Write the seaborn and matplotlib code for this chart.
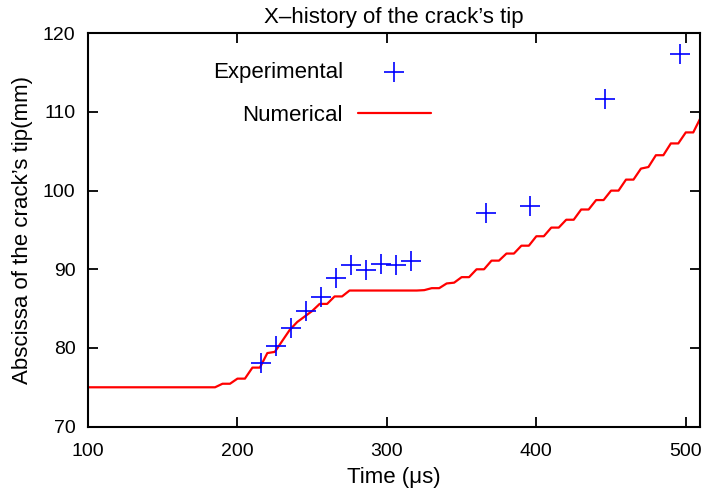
import matplotlib
matplotlib.use("Agg")
import matplotlib.pyplot as plt
import seaborn as sns
import pandas as pd

# Experimental crack-tip positions
exp_time = [216, 226, 236, 246, 256, 266, 276, 286, 296, 306, 316, 366, 396, 446, 496]
exp_pos = [78.1, 80.3, 82.5, 84.7, 86.5, 88.9, 90.6, 89.9, 90.7, 90.6, 91.0, 97.1, 98.0, 111.7, 117.4]

# Numerical crack-tip positions (staircase)
num_time = [100, 185, 190, 195, 200, 205, 210, 215, 220, 225, 230, 235, 240, 245, 250,
            255, 260, 265, 270, 275, 280, 290, 300, 310, 320, 325, 330, 335, 340, 345,
            350, 355, 360, 365, 370, 375, 380, 385, 390, 395, 400, 405, 410, 415, 420,
            425, 430, 435, 440, 445, 450, 455, 460, 465, 470, 475, 480, 485, 490, 495,
            500, 505, 510]
num_pos = [75.0, 75.0, 75.45, 75.45, 76.1, 76.1, 77.5, 77.5, 79.35, 79.5, 80.9, 82.3, 83.3, 84.0, 84.7,
           85.6, 85.6, 86.55, 86.55, 87.3, 87.3, 87.3, 87.3, 87.3, 87.3, 87.35, 87.6, 87.6, 88.2, 88.3,
           89.0, 89.0, 90.0, 90.0, 91.1, 91.1, 92.0, 92.0, 93.0, 93.0, 94.2, 94.2, 95.3, 95.3, 96.3,
           96.3, 97.6, 97.6, 98.8, 98.8, 100.0, 100.0, 101.4, 101.4, 102.8, 103.0, 104.5, 104.5, 106.0, 106.0,
           107.4, 107.4, 109.3]

x_ticks = [100, 200, 300, 400, 500]
y_ticks = [70, 80, 90, 100, 110, 120]

sns.set_style("ticks")
plt.rcParams['font.family'] = ['Liberation Sans', 'DejaVu Sans']
plt.rcParams['font.size'] = 16
plt.rcParams['text.color'] = 'black'
plt.rcParams['axes.labelcolor'] = 'black'
plt.rcParams['xtick.color'] = 'black'
plt.rcParams['ytick.color'] = 'black'

fig = plt.figure(figsize=(7.03, 4.94), dpi=100)
ax = fig.add_axes([0.1252, 0.1364, 0.8705, 0.7962])

num_df = pd.DataFrame({"t": num_time, "x": num_pos})
exp_df = pd.DataFrame({"t": exp_time, "x": exp_pos})

sns.scatterplot(data=exp_df, x="t", y="x", marker="+", s=210, color="#0000ff",
                linewidth=1.2, ax=ax, label="Experimental", zorder=3)
sns.lineplot(data=num_df, x="t", y="x", color="#ff0000", linewidth=1.6,
             estimator=None, sort=False, ax=ax, label="Numerical", zorder=2)

ax.set_xlim(100, 509.5)
ax.set_ylim(70, 120)
ax.set_xticks(x_ticks)
ax.set_yticks(y_ticks)
ax.tick_params(direction="in", length=7, width=1.3, top=True, right=True,
               labelsize=14, colors="black")
ax.tick_params(axis="x", pad=12)
ax.tick_params(axis="y", pad=9)
for sp in ax.spines.values():
    sp.set_visible(True)
    sp.set_linewidth(1.5)
    sp.set_color("black")

ax.set_title("X–history of the crack’s tip", fontsize=16, pad=7.6, color="black")
ax.set_xlabel("Time (μs)", fontsize=16, labelpad=5, color="black")
ax.set_ylabel("Abscissa of the crack’s tip(mm)", fontsize=16, labelpad=7, color="black")

leg = ax.legend(loc="center", bbox_to_anchor=(0.382, 0.846), frameon=False,
                markerfirst=False, fontsize=16, handlelength=3.29,
                handletextpad=0.66, labelspacing=1.0, scatterpoints=1)
for t in leg.get_texts():
    t.set_color("black")

fig.savefig("out.png", dpi=100)
